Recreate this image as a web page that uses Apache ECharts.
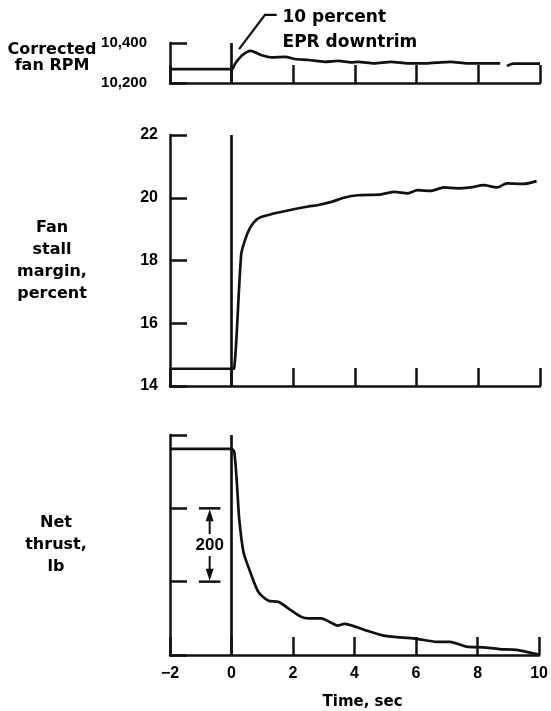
<!DOCTYPE html>
<html><head><meta charset="utf-8">
<script src="https://cdn.jsdelivr.net/npm/echarts@6/dist/echarts.min.js"></script>
<style>html,body{margin:0;padding:0;background:#fff}#c{width:551px;height:711px}</style>
</head><body><div id="c"></div>
<script>
// ---- tick values / labels ----
const timeTicks = [-2, 0, 2, 4, 6, 8, 10];
const timeTickLabels = ['\u22122', '0', '2', '4', '6', '8', '10'];
const rpmTicks = [10200, 10400];
const rpmTickLabels = ['10,200', '10,400'];
const stallTicks = [14, 16, 18, 20, 22];
const stallTickLabels = ['14', '16', '18', '20', '22'];
const thrustTicks = [0, 200, 400, 600];

// ---- Corrected fan RPM ----
const rpmTime   = [-2, 0, 0.12, 0.34, 0.61, 0.98, 1.3, 1.73, 2.05, 2.49, 3.02, 3.45, 3.88, 4.1, 4.62, 5.17, 5.72, 6.23, 6.65, 7.1, 7.65, 8.16, 8.71, 8.82, 8.93, 9.13, 10];
const rpmValues = [10269, 10269, 10299, 10339, 10361, 10339, 10328, 10331, 10320, 10315, 10306, 10311, 10303, 10306, 10298, 10306, 10298, 10298, 10302, 10306, 10298, 10298, 10298, null, 10285, 10297, 10297];

// ---- Fan stall margin, percent ----
const stallTime   = [-2, 0, 0.08, 0.31, 0.45, 0.6, 0.8, 1.0, 1.3, 1.52, 2.05, 2.49, 2.81, 3.24, 3.67, 4.1, 4.85, 5.28, 5.71, 6.03, 6.46, 6.89, 7.32, 7.75, 8.17, 8.61, 8.93, 9.46, 9.89];
const stallValues = [14.55, 14.55, 14.56, 18.2, 18.7, 19.05, 19.3, 19.4, 19.48, 19.53, 19.64, 19.72, 19.77, 19.87, 20.01, 20.08, 20.11, 20.19, 20.14, 20.24, 20.22, 20.33, 20.30, 20.33, 20.40, 20.33, 20.46, 20.44, 20.53];

// ---- Net thrust, lb (relative) ----
const thrustTime   = [-2, 0, 0.09, 0.18, 0.25, 0.39, 0.61, 0.88, 1.2, 1.52, 1.95, 2.27, 2.49, 2.91, 3.24, 3.45, 3.67, 4.31, 4.95, 5.49, 6.03, 6.67, 7.1, 7.64, 8.17, 8.71, 9.25, 9.89, 10];
const thrustValues = [562, 562, 553, 462, 371, 280, 226, 171, 148, 145, 121, 104, 100, 100, 88, 80, 85, 69, 53, 48, 44, 36, 36, 23, 21, 16, 14, 3, 2];

const INK = '#111';
const NUMFONT = 'Liberation Sans';
const WORDFONT = 'DejaVu Sans';

function pairs(xs, ys) { return xs.map((x, i) => [x, ys[i] === null ? '-' : ys[i]]); }
function fmt(ticks, labels) { return v => { const i = ticks.indexOf(v); return i >= 0 ? labels[i] : ''; }; }

function xAxis(gi, show) {
  return {
    type: 'value', gridIndex: gi, min: -2, max: 10, interval: 2,
    axisLine: { show: true, onZero: false, lineStyle: { color: INK, width: 2.5 } },
    axisTick: { show: true, inside: true, length: 18, lineStyle: { color: INK, width: 2.5 } },
    axisLabel: { show: show, margin: 11, color: '#000', fontFamily: NUMFONT, fontWeight: 'bold', fontSize: 16,
                 formatter: fmt(timeTicks, timeTickLabels) },
    splitLine: { show: false },
    name: show ? 'Time, sec' : '', nameLocation: 'middle', nameGap: 40,
    nameTextStyle: { color: '#000', fontFamily: WORDFONT, fontWeight: 'bold', fontSize: 15, padding: [0, 0, 0, 16] }
  };
}
function yAxis(gi, min, max, interval, show, margin, ticks, labels, size) {
  return {
    type: 'value', gridIndex: gi, min: min, max: max, interval: interval,
    axisLine: { show: true, onZero: false, lineStyle: { color: INK, width: 2.5 } },
    axisTick: { show: true, inside: true, length: 17, lineStyle: { color: INK, width: 2.5 } },
    axisLabel: { show: show, margin: margin, color: '#000', fontFamily: NUMFONT, fontWeight: 'bold', fontSize: size,
                 formatter: ticks ? fmt(ticks, labels) : undefined, padding: gi === 0 ? [0, 0, 8, 0] : 0 },
    splitLine: { show: false }
  };
}
const zeroLine = { silent: true, symbol: ['none', 'none'], label: { show: false },
                   lineStyle: { color: INK, width: 2.7, type: 'solid' }, data: [{ xAxis: 0 }] };
function lineSeries(idx, data) {
  return { type: 'line', xAxisIndex: idx, yAxisIndex: idx, data: data, showSymbol: false, symbol: 'none',
           smooth: 0.25, connectNulls: false, lineStyle: { color: INK, width: 2.7 }, markLine: zeroLine, z: 3 };
}

const chart = echarts.init(document.getElementById('c'), null, { renderer: 'canvas' });
chart.setOption({
  animation: false,
  backgroundColor: '#fff',
  grid: [
    { left: 170, right: 11, top: 43, height: 40, containLabel: false },
    { left: 170, right: 11, top: 135, height: 251, containLabel: false },
    { left: 170, right: 11, top: 435, height: 221, containLabel: false }
  ],
  xAxis: [xAxis(0, false), xAxis(1, false), xAxis(2, true)],
  yAxis: [
    yAxis(0, 10200, 10400, 200, true, 23, rpmTicks, rpmTickLabels, 15),
    yAxis(1, 14, 22, 2, true, 12, stallTicks, stallTickLabels, 16),
    yAxis(2, 0, 600, 200, false, 10, null, null, 16)
  ],
  series: [
    lineSeries(0, pairs(rpmTime, rpmValues)),
    lineSeries(1, pairs(stallTime, stallValues)),
    lineSeries(2, pairs(thrustTime, thrustValues))
  ]
});

// ---- annotations anchored to data coordinates ----
const p0 = (t, v) => chart.convertToPixel({ gridIndex: 0 }, [t, v]);
const p2 = (t, v) => chart.convertToPixel({ gridIndex: 2 }, [t, v]);
const lab = { fill: '#000', font: 'bold 16px "' + WORDFONT + '"' };
const lab17 = { fill: '#000', font: 'bold 17px "' + WORDFONT + '"' };

const a1 = p0(0.24, 10369), a2 = p0(1.08, 10541), a3 = p0(1.46, 10541);
const tx1 = p0(1.65, 10526), tx2 = p0(1.65, 10403);

const capL = p2(-1.06, 400), capR = p2(-0.36, 400);
const capL2 = p2(-1.06, 200), capR2 = p2(-0.36, 200);
const mid = p2(-0.71, 300);
const ax = mid[0];
const topY = capL[1], botY = capL2[1];

const g = [
  { type: 'text', style: Object.assign({ text: 'Corrected\nfan RPM', x: 52, y: 58, textAlign: 'center', textVerticalAlign: 'middle', lineHeight: 16 }, lab) },
  { type: 'text', style: Object.assign({ text: 'Fan\nstall\nmargin,\npercent', x: 52, y: 261, textAlign: 'center', textVerticalAlign: 'middle', lineHeight: 22 }, lab) },
  { type: 'text', style: Object.assign({ text: 'Net\nthrust,\nlb', x: 56, y: 545, textAlign: 'center', textVerticalAlign: 'middle', lineHeight: 22 }, lab) },
  { type: 'polyline', shape: { points: [a1, a2, a3] }, style: { stroke: INK, lineWidth: 2.2, fill: null } },
  { type: 'text', style: Object.assign({ text: '10 percent', x: tx1[0], y: tx1[1], textAlign: 'left', textVerticalAlign: 'middle' }, lab17) },
  { type: 'text', style: Object.assign({ text: 'EPR downtrim', x: tx2[0], y: tx2[1], textAlign: 'left', textVerticalAlign: 'middle' }, lab17) },
  // 200 lb scale bar
  { type: 'line', shape: { x1: capL[0], y1: topY, x2: capR[0], y2: topY }, style: { stroke: INK, lineWidth: 2.5 } },
  { type: 'line', shape: { x1: capL2[0], y1: botY, x2: capR2[0], y2: botY }, style: { stroke: INK, lineWidth: 2.5 } },
  { type: 'line', shape: { x1: ax, y1: topY + 6, x2: ax, y2: mid[1] - 11 }, style: { stroke: INK, lineWidth: 2 } },
  { type: 'line', shape: { x1: ax, y1: mid[1] + 11, x2: ax, y2: botY - 6 }, style: { stroke: INK, lineWidth: 2 } },
  { type: 'polygon', shape: { points: [[ax, topY + 1], [ax - 4, topY + 13], [ax + 4, topY + 13]] }, style: { fill: INK } },
  { type: 'polygon', shape: { points: [[ax, botY - 1], [ax - 4, botY - 13], [ax + 4, botY - 13]] }, style: { fill: INK } },
  { type: 'text', style: { text: '200', x: ax, y: mid[1], textAlign: 'center', textVerticalAlign: 'middle', fill: '#000', font: 'bold 17px "' + NUMFONT + '"' } }
];
chart.setOption({ graphic: { elements: g } });
</script>
</body></html>
